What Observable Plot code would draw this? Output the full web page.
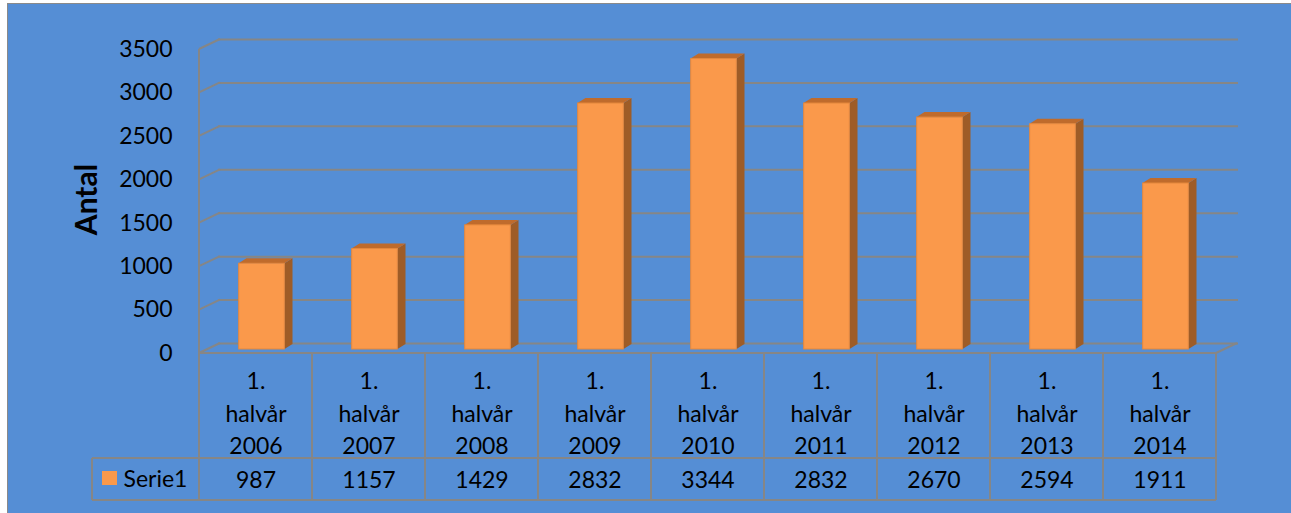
<!DOCTYPE html>
<html>
<head>
<meta charset="utf-8">
<script src="https://cdn.jsdelivr.net/npm/d3@7"></script>
<script src="https://cdn.jsdelivr.net/npm/@observablehq/plot@0.6"></script>
<style>
  html, body { margin: 0; padding: 0; background: #ffffff; overflow: hidden; }
  #wrap { position: relative; width: 1291px; height: 513px; overflow: hidden; }
  #bg { position: absolute; left: 7px; top: 3px; width: 1300px; height: 520px;
        background: #558ED5; border-left: 1px solid #8a8a8a; border-top: 1px solid #8a8a8a; }
  #chart { position: absolute; left: 0; top: 0; }
</style>
</head>
<body>
<div id="wrap"><div id="bg"></div><div id="chart"></div></div>
<script>
// ---- data ----
const years = ["2006", "2007", "2008", "2009", "2010", "2011", "2012", "2013", "2014"];
const periodPrefix = ["1.", "halvår"];
const values = [987, 1157, 1429, 2832, 3344, 2832, 2670, 2594, 1911];
const yTicks = [0, 500, 1000, 1500, 2000, 2500, 3000, 3500];
const seriesName = "Serie1";
const yLabel = "Antal";

// ---- derived ----
const categories = years.map(y => [...periodPrefix, y].join("\n"));
const data = categories.map((c, i) => ({category: c, value: values[i]}));

// ---- style ----
const GRID = "#868686";
const FRONT = "#FA994B";
const FRONT_EDGE = "#E5883D";
const SIDE = "#9E5C27";
const TOP = "#BF6B2C";
const wall = {dx: 21, dy: -10};     // back wall offset
const barShift = {dx: 6, dy: -4};   // bar front plane offset
const barDepth = {dx: 8, dy: -5};   // bar extrusion
const barWidth = 46;
const rowCat = 105, rowVal = 147, legendLeft = 92;

function bandInfo(x) {
  const x0 = x(categories[0]);
  const step = x(categories[1]) - x0;
  return {x0, step, xEnd: x0 + step * categories.length};
}

// floor, wall edges and table grid
function frameDecor(index, scales) {
  const {x, y} = scales;
  const {x0, step, xEnd} = bandInfo(x);
  const yb = y(0), yt = y(yTicks[yTicks.length - 1]);
  const g = d3.create("svg:g").attr("fill", "none").attr("stroke", GRID).attr("stroke-width", 2);
  const line = (a, b, c, d) => g.append("line").attr("x1", a).attr("y1", b).attr("x2", c).attr("y2", d);
  for (const t of yTicks) line(x0, y(t), x0 + wall.dx, y(t) + wall.dy);
  line(xEnd, yb, xEnd + wall.dx, yb + wall.dy);
  line(x0, yt, x0, yb + rowVal);
  line(x0, yb, xEnd, yb);
  for (let i = 1; i <= categories.length; i++) line(x0 + i * step, yb, x0 + i * step, yb + rowVal);
  line(legendLeft, yb + rowCat, xEnd, yb + rowCat);
  line(legendLeft, yb + rowVal, xEnd, yb + rowVal);
  line(legendLeft, yb + rowCat, legendLeft, yb + rowVal);
  // legend key
  g.append("rect").attr("x", legendLeft + 10).attr("y", yb + 118).attr("width", 15).attr("height", 14)
    .attr("fill", FRONT).attr("stroke", "none");
  return g.node();
}

// side and top faces of the bars
function barFaces(index, scales) {
  const {x, y} = scales;
  const {step} = bandInfo(x);
  const inset = (step - barWidth) / 2;
  const g = d3.create("svg:g").attr("stroke", "none");
  data.forEach(d => {
    const L = x(d.category) + inset + barShift.dx;
    const R = L + barWidth;
    const T = y(d.value) + barShift.dy;
    const B = y(0) + barShift.dy;
    g.append("polygon").attr("fill", SIDE)
      .attr("points", [[R, T], [R + barDepth.dx, T + barDepth.dy], [R + barDepth.dx, B + barDepth.dy], [R, B]].join(" "));
    g.append("polygon").attr("fill", TOP)
      .attr("points", [[L, T], [L + barDepth.dx, T + barDepth.dy], [R + barDepth.dx, T + barDepth.dy], [R, T]].join(" "));
  });
  return g.node();
}

const chart = Plot.plot({
  width: 1291,
  height: 513,
  marginLeft: 197,
  marginRight: 74,
  marginTop: 49,
  marginBottom: 160,
  style: {background: "transparent", fontFamily: "Lato, 'Open Sans', sans-serif", fontSize: "23px", color: "#000"},
  x: {domain: categories, padding: 0, axis: null},
  y: {domain: [0, 3500], ticks: yTicks, tickSize: 0, tickPadding: 25, label: null, tickFormat: d => String(d)},
  marks: [
    Plot.ruleY(yTicks, {dx: wall.dx, dy: wall.dy, stroke: GRID, strokeWidth: 2}),
    frameDecor,
    barFaces,
    Plot.barY(data, {x: "category", y: "value", fill: FRONT, stroke: FRONT_EDGE, strokeWidth: 1,
      insetLeft: (1020 / 9 - barWidth) / 2, insetRight: (1020 / 9 - barWidth) / 2,
      dx: barShift.dx, dy: barShift.dy}),
    Plot.text(data, {x: "category", text: "category", frameAnchor: "bottom", lineAnchor: "middle", dy: 58, lineHeight: 1.41, fill: "#000"}),
    Plot.text(data, {x: "category", text: d => String(d.value), frameAnchor: "bottom", lineAnchor: "middle", dy: 127, fill: "#000"}),
    Plot.text([seriesName], {frameAnchor: "bottom-left", lineAnchor: "middle", dx: -74, dy: 126, textAnchor: "start", fill: "#000"}),
    Plot.text([yLabel], {frameAnchor: "left", lineAnchor: "middle", textAnchor: "middle", dx: -110, dy: -2, rotate: -90, fontWeight: "bold", fontSize: 30, fill: "#000"})
  ]
});
document.getElementById("chart").appendChild(chart);
</script>
</body>
</html>
